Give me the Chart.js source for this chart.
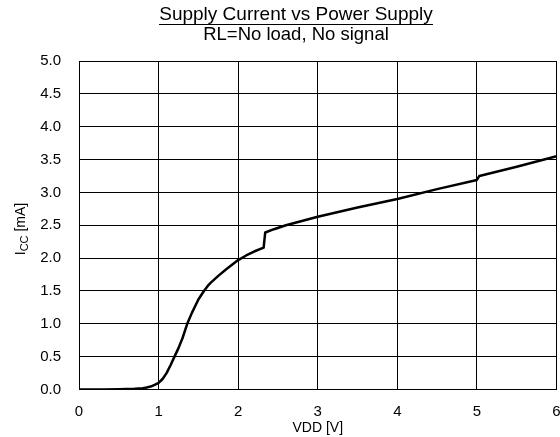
<!DOCTYPE html>
<html>
<head>
<meta charset="utf-8">
<script src="https://cdn.jsdelivr.net/npm/chart.js@4/dist/chart.umd.min.js"></script>
<style>
  html, body { margin: 0; padding: 0; background: #fff; }
  #wrap { width: 560px; height: 437px; position: relative; }
</style>
</head>
<body>
<div id="wrap"><canvas id="icc"></canvas></div>
<script>
const titleText = 'Supply Current vs Power Supply';
const subTitleText = 'RL=No load, No signal';
const xLabel = 'VDD [V]';

// supply voltage [V] and supply current [mA]
const vdd = [0, 0.3, 0.5, 0.6, 0.7, 0.8, 0.85, 0.9, 0.95, 1.0, 1.05, 1.1, 1.15, 1.2, 1.25, 1.3,
  1.36, 1.42, 1.5, 1.57, 1.62, 1.66, 1.75, 1.85, 2.0, 2.1, 2.2, 2.32, 2.34, 2.45, 2.6,
  3.0, 3.5, 4.0, 4.5, 5.0, 5.03, 5.5, 6.0];
const icc = [0, 0.001, 0.003, 0.006, 0.011, 0.02, 0.03, 0.045, 0.07, 0.1, 0.16, 0.25, 0.37, 0.5, 0.63, 0.78,
  1.0, 1.17, 1.37, 1.5, 1.58, 1.63, 1.73, 1.83, 1.97, 2.04, 2.1, 2.16, 2.39, 2.44, 2.5,
  2.63, 2.77, 2.9, 3.05, 3.19, 3.25, 3.39, 3.55];

const xMin = 0, xMax = 6, xStep = 1;
const yMin = 0, yMax = 5, yStep = 0.5;

const font = '"Liberation Sans", Arial, sans-serif';

const textPlugin = {
  id: 'textPlugin',
  afterDraw(chart) {
    const c = chart.ctx;
    c.save();
    c.fillStyle = '#000';
    c.textAlign = 'center';
    c.textBaseline = 'alphabetic';
    const cx = 296;
    c.font = '19px ' + font;
    c.fillText(titleText, cx, 20);
    const w = c.measureText(titleText).width;
    c.fillRect(Math.round(cx - w / 2), 24, Math.round(w), 1);
    c.font = '18.5px ' + font;
    c.fillText(subTitleText, cx, 40);

    // y axis title with subscript, rotated
    c.translate(25, 229);
    c.rotate(-Math.PI / 2);
    c.textAlign = 'left';
    const big = '14px ' + font, small = '11px ' + font;
    c.font = big;
    const wI = c.measureText('I').width;
    const wRest = c.measureText(' [mA]').width;
    c.font = small;
    const wSub = c.measureText('CC').width;
    let x = -(wI + wSub + wRest) / 2;
    c.font = big;
    c.fillText('I', x, 0);
    x += wI;
    c.font = small;
    c.fillText('CC', x, 3);
    x += wSub;
    c.font = big;
    c.fillText(' [mA]', x, 0);
    c.restore();
  }
};

new Chart(document.getElementById('icc'), {
  type: 'line',
  data: {
    datasets: [{
      data: vdd.map((v, i) => ({ x: v, y: icc[i] })),
      borderColor: '#000',
      borderWidth: 2.5,
      borderJoinStyle: 'round',
      pointRadius: 0,
      fill: false,
      tension: 0
    }]
  },
  options: {
    responsive: true,
    maintainAspectRatio: false,
    animation: false,
    layout: { padding: { top: 61, right: 3.5, bottom: 0, left: 0 } },
    plugins: {
      legend: { display: false },
      title: { display: false },
      tooltip: { enabled: false }
    },
    scales: {
      x: {
        type: 'linear',
        min: xMin, max: xMax,
        grid: { color: '#000', lineWidth: 1, drawTicks: false },
        border: { color: '#000', width: 1 },
        ticks: { stepSize: xStep, color: '#000', padding: 13, font: { family: font, size: 15 } },
        title: { display: true, text: xLabel, color: '#000', padding: { top: 1, bottom: 0 }, font: { family: font, size: 14 } },
        afterFit: (s) => { s.height = 47.5; s.paddingRight = 0; s.paddingLeft = 0; }
      },
      y: {
        min: yMin, max: yMax,
        grid: { color: '#000', lineWidth: 1, drawTicks: false },
        border: { color: '#000', width: 1 },
        ticks: { stepSize: yStep, color: '#000', padding: 18, font: { family: font, size: 15 },
          callback: (v) => v.toFixed(1) },
        afterFit: (s) => { s.width = 79; }
      }
    }
  },
  plugins: [textPlugin]
});
</script>
</body>
</html>
